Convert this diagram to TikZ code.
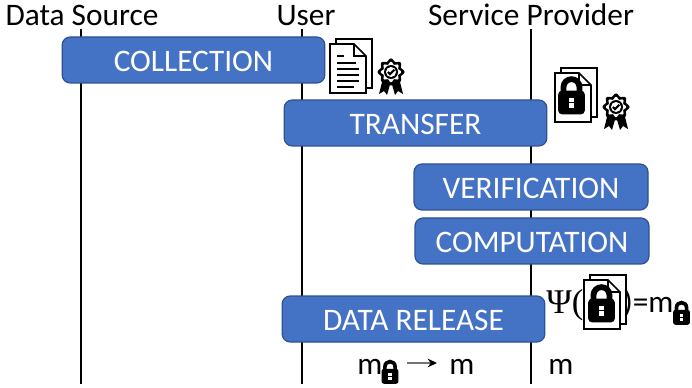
\documentclass[tikz,border=0pt]{standalone}
\usepackage{xcolor}
\usepackage{fontspec}
\setmainfont{Carlito}
\newfontfamily\psifont{Liberation Serif}
\usetikzlibrary{arrows.meta, positioning}
\definecolor{boxfill}{RGB}{68, 114, 196}
\definecolor{boxline}{RGB}{47, 82, 143}

\tikzset{
    pics/pagestack/.style={code={
        \draw[fill=white, line width=1.2pt] (6,-5) rectangle (42,44);
        \draw[fill=white, line width=1.2pt] (0,0) -- (24,0) -- (36,12) -- (36,49) -- (0,49) -- cycle;
        \draw[line width=.8pt] (24,0) -- (24,12) -- (36,12);
    }},
    pics/textlines/.style={code={
        \foreach \ypos/\xend in {12/14, 19/26, 25/29, 31/29, 37/29, 43/24}
            \draw[line width=1.5pt] (7,\ypos) -- (\xend,\ypos);
    }},
    pics/lockicon/.style={code={
        \begin{scope}[scale=#1]
            \draw[line width=#1*4.6pt] (-8.5,-11) -- (-8.5,-15) .. controls (-8.5,-27) and (8.5,-27) .. (8.5,-15) -- (8.5,-11);
            \fill[black, rounded corners=#1*3pt] (-14,-12) rectangle (14,13);
            \fill[white] (-2.8,-4.5) rectangle (2.8,-0.5);
            \fill[white] (-2.8,1.5) rectangle (2.8,6.5);
        \end{scope}
    }},
    pics/badgeicon/.style={code={
        \fill[black] (-8,6) -- (-12,22) -- (-7,19) -- (-4,23) -- (0,9) -- (4,23) -- (7,19) -- (12,22) -- (8,6) -- cycle;
        \fill[black] plot[domain=0:360, samples=73, smooth] (\x:{12.2+1.3*cos(8*\x)}) -- cycle;
        \fill[white] plot[domain=0:360, samples=73, smooth] (\x:{8.9+1.2*cos(8*\x)}) -- cycle;
        \fill[black] (0,0) circle (7);
        \fill[white] (0,0) circle (5);
        \draw[line width=1.6pt] (-3.2,0) -- (-1,2.2) -- (3.4,-2.2);
    }}
}

\begin{document}
\begin{tikzpicture}[
    x=.75pt, y=-.75pt,
    title/.style={font=\fontsize{23.5}{28}\selectfont, anchor=base, inner sep=0pt},
    lifeline/.style={line width=1.2pt, black},
    phase/.style={draw=boxline, fill=boxfill, line width=.9pt, rounded corners=6pt, text=white, minimum height=34.5pt, text height=17.5pt, text depth=0pt, font=\fontsize{23.5}{28}\selectfont, inner sep=0pt},
    widephase/.style={phase, minimum width=197pt},
    narrowphase/.style={phase, minimum width=175.5pt},
    msg/.style={font=\fontsize{23.5}{28}\selectfont, anchor=base west, inner sep=0pt},
    arrow/.style={-{Stealth[length=7pt, width=6.5pt, black]}, line width=1pt, black!55}
]
    \useasboundingbox (0,0) rectangle (692,388);

    % Three parties
    \node[title] (source) at (82,25.5) {Data Source};
    \node[title] (user) at (306,25.5) {User};
    \node[title] (provider) at (531,25.5) {Service Provider};

    % Lifelines end below the boxes
    \coordinate (sourcetop) at (81,29);
    \coordinate (usertop) at (302,29);
    \coordinate (providertop) at (531,29);
    \coordinate (sourceend) at (81,384);
    \coordinate (userend) at (302,384);
    \coordinate (providerend) at (531,384);
    \draw[lifeline] (sourcetop) -- (sourceend);
    \draw[lifeline] (usertop) -- (userend);
    \draw[lifeline] (providertop) -- (providerend);

    % Phases
    \node[widephase] (collection) at (193.5,60) {COLLECTION};
    \node[widephase] (transfer) at (415.5,123) {TRANSFER};
    \node[narrowphase] (verification) at (531,187) {VERIFICATION};
    \node[narrowphase] (computation) at (532,241) {COMPUTATION};
    \node[widephase] (release) at (413.5,319) {DATA RELEASE};

    % Documents and badges
    \pic at (330,44) {pagestack};
    \pic at (330,44) {textlines};
    \pic at (391,72) {badgeicon};
    \pic at (555,73) {pagestack};
    \pic at (571.5,102) {lockicon=.95};
    \pic at (616,107) {badgeicon};

    % Function on the locked document
    \node[msg, font=\psifont\fontsize{26}{30}\selectfont] (psi) at (546,313) {Ψ(};
    \pic at (584,280) {pagestack};
    \pic at (601.5,310) {lockicon=.95};
    \node[msg] (result) at (623,312.5) {)=m};
    \pic at (681.5,317) {lockicon=.6};

    % Release
    \node[msg] (menc) at (357,374) {m};
    \pic at (390,376) {lockicon=.6};
    \node[msg] (mdec) at (449,374) {m};
    \node[msg] (mout) at (548,374) {m};
    \coordinate (arrowfrom) at (407,363);
    \coordinate (arrowto) at (437,363);
    \draw[arrow] (arrowfrom) -- (arrowto);
\end{tikzpicture}
\end{document}
